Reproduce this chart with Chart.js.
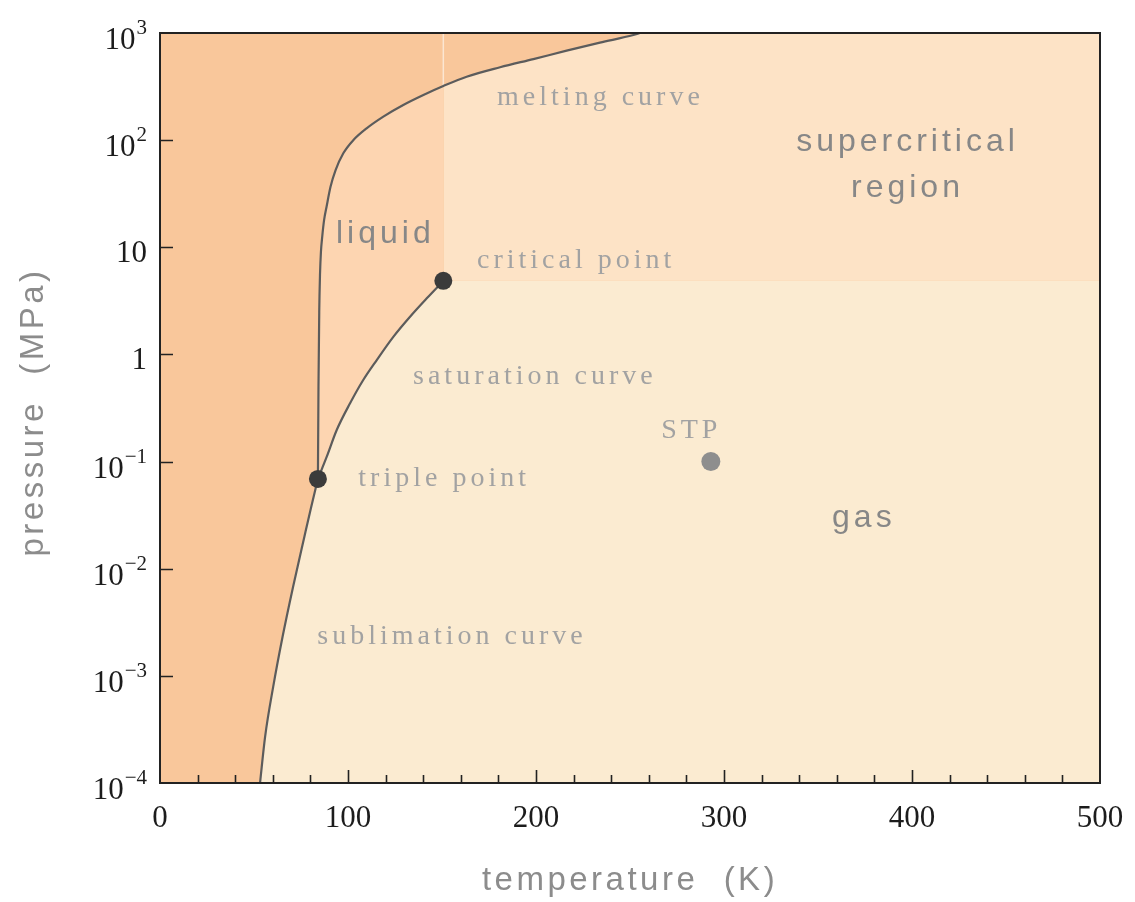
<!DOCTYPE html>
<html>
<head>
<meta charset="utf-8">
<script src="https://cdn.jsdelivr.net/npm/chart.js@4.4.1/dist/chart.umd.min.js"></script>
<style>
  html, body { margin: 0; padding: 0; background: #fff; }
  #wrap { width: 1135px; height: 902px; position: relative; }
</style>
</head>
<body>
<div id="wrap"><canvas id="phaseChart"></canvas></div>
<script>
// argon phase diagram (T in K, p in MPa)
const sublimationT = [53.2, 55.9, 60.2, 65.2, 70.8, 76.8, 80.3, 84.0];
const sublimationP = [1e-4, 2.7e-4, 7.9e-4, 2.32e-3, 6.8e-3, 1.99e-2, 3.69e-2, 0.0689];

const meltingT = [84.0, 84.3, 84.7, 85.1, 85.6, 86.3, 87.3, 88.6, 90.7, 93.4, 97.5, 102.8, 109.9,
  118.8, 129.4, 140.1, 150.7, 163.1, 180.9, 198.6, 216.3, 234.0, 251.8, 255.3];
const meltingP = [0.0689, 0.5, 2.49, 5.51, 9.04, 12.6, 18.0, 23.9, 36.7, 52.6, 75.4, 100, 129,
  166, 213, 264, 320, 391, 479, 571, 684, 813, 957, 1000];

const saturationT = [84.0, 88.7, 94.0, 101.1, 108.1, 115.3, 124.1, 133.0, 141.9, 150.7];
const saturationP = [0.0689, 0.111, 0.197, 0.350, 0.577, 0.887, 1.46, 2.25, 3.34, 4.86];

const triplePoint = [84.0, 0.0689];
const criticalPoint = [150.7, 4.86];
const stpPoint = [293, 0.1];

// axes
const tRange = [0, 500];
const pRange = [1e-4, 1e3];
const xTickLabels = [0, 100, 200, 300, 400, 500];
const xMinorStep = 20;
const yTickPowers = [-4, -3, -2, -1, 0, 1, 2, 3];

const colors = {
  solid: '#f9c79b',
  liquid: '#fdd5b1',
  supercritical: '#fde3c6',
  gas: '#fbebd1',
  curve: '#5c5c5c',
  dot: '#3b3b3b',
  stp: '#8e8e8e',
  serifText: '#a2a2a2',
  sansText: '#878787',
  axisText: '#8c8c8c',
  tickText: '#1c1c1c',
};

// text labels placed in data coordinates
const annotations = [
  { text: 'melting curve', t: 179.3, p: 213, align: 'left', kind: 'serif' },
  { text: 'critical point', t: 168.6, p: 6.37, align: 'left', kind: 'serif' },
  { text: 'saturation curve', t: 134.6, p: 0.53, align: 'left', kind: 'serif' },
  { text: 'triple point', t: 105.5, p: 0.0596, align: 'left', kind: 'serif' },
  { text: 'sublimation curve', t: 83.7, p: 0.00197, align: 'left', kind: 'serif' },
  { text: 'STP', t: 282.6, p: 0.165, align: 'center', kind: 'serif' },
  { text: 'liquid', t: 93.6, p: 10.9, align: 'left', kind: 'sans' },
  { text: 'supercritical', t: 397.6, p: 79.2, align: 'center', kind: 'sans' },
  { text: 'region', t: 397.6, p: 29.6, align: 'center', kind: 'sans' },
  { text: 'gas', t: 374.4, p: 0.0247, align: 'center', kind: 'sans' },
];

const toPoints = (xs, ys) => xs.map((x, i) => ({ x: x, y: ys[i] }));

const sublimation = toPoints(sublimationT, sublimationP);
const melting = toPoints(meltingT, meltingP);
const saturation = toPoints(saturationT, saturationP);

// pieces used for the coloured regions
const meltingLow = melting.filter((pt) => pt.x <= criticalPoint[0]);
const meltingHigh = melting.filter((pt) => pt.x >= criticalPoint[0]).concat([{ x: tRange[1], y: pRange[1] }]);
const gasLowEdge = sublimation.concat(saturation.slice(1));
const gasBand = [
  { x: saturationT[saturationT.length - 2], y: criticalPoint[1] },
  { x: tRange[1], y: criticalPoint[1] },
];

const SATURATION_INDEX = 2;

const curveSet = (data) => ({
  data: data,
  fill: false,
  borderColor: colors.curve,
  borderWidth: 2.2,
  pointRadius: 0,
  cubicInterpolationMode: 'monotone',
  order: 2,
});

const fillSet = (data, fill, color, order) => ({
  data: data,
  fill: fill,
  backgroundColor: color,
  borderWidth: 0,
  pointRadius: 0,
  cubicInterpolationMode: 'monotone',
  order: order,
});

const dotSet = (pt, color, r) => ({
  data: [{ x: pt[0], y: pt[1] }],
  showLine: false,
  pointRadius: r,
  pointBackgroundColor: color,
  pointBorderWidth: 0,
  order: 0,
});

const frameAndText = {
  id: 'frameAndText',
  beforeDraw(chart) {
    // chart area starts as the solid phase, other phases are filled on top
    const { ctx, chartArea: a } = chart;
    ctx.save();
    ctx.fillStyle = colors.solid;
    ctx.fillRect(a.left, a.top, a.right - a.left, a.bottom - a.top);
    ctx.restore();
  },
  afterDraw(chart) {
    const { ctx, chartArea: a } = chart;
    const xs = chart.scales.x, ys = chart.scales.y;
    ctx.save();

    // frame
    ctx.strokeStyle = '#222';
    ctx.lineWidth = 2;
    ctx.strokeRect(a.left, a.top, a.right - a.left, a.bottom - a.top);

    // x ticks, inward
    ctx.lineWidth = 1.6;
    ctx.beginPath();
    for (let t = tRange[0] + xMinorStep; t < tRange[1]; t += xMinorStep) {
      const px = Math.round(xs.getPixelForValue(t)) + 0.5;
      const len = t % 100 === 0 ? 13 : 8;
      ctx.moveTo(px, a.bottom);
      ctx.lineTo(px, a.bottom - len);
    }
    // y ticks, inward
    yTickPowers.forEach((pw) => {
      if (pw === yTickPowers[0] || pw === yTickPowers[yTickPowers.length - 1]) return;
      const py = Math.round(ys.getPixelForValue(Math.pow(10, pw))) + 0.5;
      ctx.moveTo(a.left, py);
      ctx.lineTo(a.left + 13, py);
    });
    ctx.stroke();

    // x tick labels
    ctx.fillStyle = colors.tickText;
    ctx.font = '31px "Liberation Serif"';
    ctx.textAlign = 'center';
    ctx.textBaseline = 'alphabetic';
    xTickLabels.forEach((t) => {
      ctx.fillText(String(t), xs.getPixelForValue(t), a.bottom + 44);
    });

    // y tick labels as 10^n
    const right = a.left - 13;
    yTickPowers.forEach((pw) => {
      const py = ys.getPixelForValue(Math.pow(10, pw));
      ctx.textAlign = 'right';
      if (pw === 0 || pw === 1) {
        ctx.font = '31px "Liberation Serif"';
        ctx.fillText(pw === 0 ? '1' : '10', right, py + 15);
        return;
      }
      const exp = pw < 0 ? '\u2212' + Math.abs(pw) : String(pw);
      ctx.font = '21px "Liberation Serif"';
      const ew = ctx.measureText(exp).width;
      ctx.fillText(exp, right, py + 1);
      ctx.font = '31px "Liberation Serif"';
      ctx.fillText('10', right - ew - 1, py + 16);
    });

    // axis titles
    ctx.fillStyle = colors.axisText;
    ctx.font = '33px "Liberation Sans"';
    ctx.letterSpacing = '3.5px';
    ctx.textAlign = 'center';
    ctx.fillText('temperature  (K)', (a.left + a.right) / 2, a.bottom + 107);
    ctx.save();
    ctx.translate(43, (a.top + a.bottom) / 2 + 4);
    ctx.rotate(-Math.PI / 2);
    ctx.fillText('pressure  (MPa)', 0, 0);
    ctx.restore();

    // region and curve labels
    annotations.forEach((n) => {
      const px = xs.getPixelForValue(n.t);
      const py = ys.getPixelForValue(n.p);
      if (n.kind === 'serif') {
        ctx.font = '28px "Liberation Serif"';
        ctx.fillStyle = colors.serifText;
      } else {
        ctx.font = '32px "Liberation Sans"';
        ctx.fillStyle = colors.sansText;
      }
      ctx.letterSpacing = '4px';
      ctx.textAlign = n.align;
      ctx.fillText(n.text, px, py);
    });
    ctx.restore();
  },
};

new Chart(document.getElementById('phaseChart'), {
  type: 'line',
  data: {
    datasets: [
      curveSet(sublimation),
      curveSet(melting),
      curveSet(saturation),
      dotSet(triplePoint, colors.dot, 9),
      dotSet(criticalPoint, colors.dot, 9),
      dotSet(stpPoint, colors.stp, 9.5),
      {
        // faint seam above the melting curve at the critical temperature
        data: [{ x: criticalPoint[0], y: meltingP[meltingT.indexOf(criticalPoint[0])] }, { x: criticalPoint[0], y: pRange[1] }],
        borderColor: 'rgba(255,255,255,0.55)',
        borderWidth: 1.5,
        pointRadius: 0,
        fill: false,
        order: 5,
      },
      fillSet(meltingLow, SATURATION_INDEX, colors.liquid, 20),
      fillSet(meltingHigh, { value: criticalPoint[1] }, colors.supercritical, 30),
      fillSet(gasLowEdge, 'start', colors.gas, 40),
      fillSet(gasBand, 'start', colors.gas, 40),
    ],
  },
  options: {
    responsive: true,
    maintainAspectRatio: false,
    animation: false,
    layout: { padding: { left: 160, right: 35, top: 33, bottom: 119 } },
    scales: {
      x: { type: 'linear', min: tRange[0], max: tRange[1], display: false },
      y: { type: 'logarithmic', min: pRange[0], max: pRange[1], display: false },
    },
    plugins: {
      legend: { display: false },
      tooltip: { enabled: false },
      filler: { drawTime: 'beforeDatasetsDraw' },
    },
  },
  plugins: [frameAndText],
});
</script>
</body>
</html>
